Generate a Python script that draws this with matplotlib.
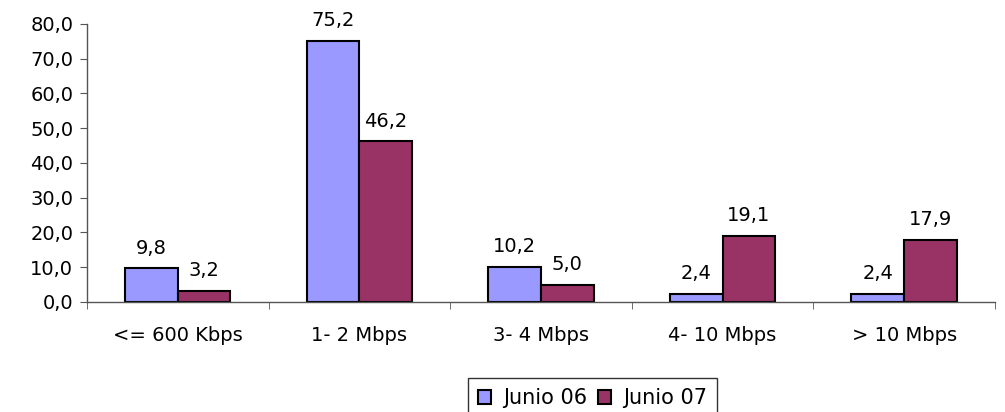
import matplotlib
matplotlib.use("Agg")
import matplotlib.pyplot as plt
import numpy as np

categories = ["<= 600 Kbps", "1- 2 Mbps", "3- 4 Mbps", "4- 10 Mbps", "> 10 Mbps"]
junio06 = [9.8, 75.2, 10.2, 2.4, 2.4]
junio07 = [3.2, 46.2, 5.0, 19.1, 17.9]
series_names = ["Junio 06", "Junio 07"]
yticks = [0, 10, 20, 30, 40, 50, 60, 70, 80]

plt.rcParams['font.family'] = ['DejaVu Sans']
fs = 14

fig = plt.figure(figsize=(10.05, 4.12), dpi=100)
ax = fig.add_axes([0.0866, 0.267, 0.9034, 0.675])

x = np.arange(len(categories))
w = 0.29
c1, c2 = "#9999FF", "#993366"
b1 = ax.bar(x - w/2, junio06, w, color=c1, edgecolor="black", linewidth=1.5, label=series_names[0])
b2 = ax.bar(x + w/2, junio07, w, color=c2, edgecolor="black", linewidth=1.5, label=series_names[1])

for bars, vals in ((b1, junio06), (b2, junio07)):
    for b, v in zip(bars, vals):
        ax.annotate(f"{v:.1f}".replace(".", ","), (b.get_x() + b.get_width()/2, v),
                    xytext=(0, 7.5), textcoords="offset points", ha="center", va="bottom", fontsize=fs)

ax.set_xlim(-0.5, len(categories) - 0.5)
ax.set_ylim(0, 80)
ax.set_yticks(yticks)
ax.set_yticklabels([f"{t:.1f}".replace(".", ",") for t in yticks], fontsize=fs)
ax.set_xticks(x)
ax.set_xticklabels(categories, fontsize=fs)
ax.tick_params(axis="x", length=0, pad=17)
ax.set_xticks(np.arange(len(categories) + 1) - 0.5, minor=True)
ax.tick_params(axis="x", which="minor", length=5, direction="out", color="#555555")
ax.tick_params(axis="y", length=5, direction="out", color="#555555", pad=5)
for s in ("top", "right"):
    ax.spines[s].set_visible(False)
for s in ("left", "bottom"):
    ax.spines[s].set_color("#555555")
    ax.spines[s].set_linewidth(1.0)

leg = fig.legend(handles=[b1, b2], labels=series_names, loc="upper center",
                 bbox_to_anchor=(0.5896, 0.0825), ncol=2, fontsize=15, frameon=True,
                 fancybox=False, edgecolor="black", handlelength=0.62, handleheight=0.62,
                 handletextpad=0.55, columnspacing=0.55, borderpad=0.5, borderaxespad=0)
leg.get_frame().set_linewidth(1.0)

fig.savefig("out.png", dpi=100)
